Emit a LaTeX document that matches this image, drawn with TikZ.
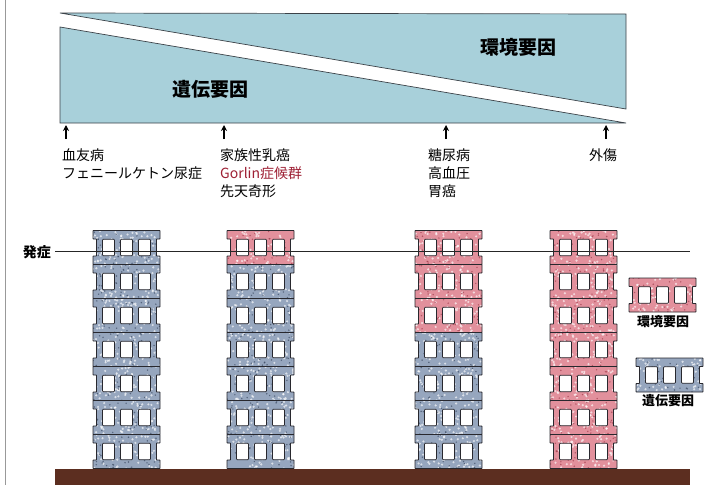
\documentclass[tikz,border=0pt]{standalone}
\usepackage{fontspec}
\newfontfamily\jp{Noto Sans CJK JP}
\usetikzlibrary{arrows.meta}

\definecolor{bandblue}{RGB}{168,208,218}
\definecolor{bandedge}{RGB}{60,66,72}
\definecolor{graystone}{RGB}{150,166,190}
\definecolor{graydark}{RGB}{60,74,98}
\definecolor{pinkstone}{RGB}{226,144,156}
\definecolor{pinkdark}{RGB}{160,60,76}
\definecolor{blockedge}{RGB}{40,40,46}
\definecolor{earth}{RGB}{92,46,32}
\definecolor{gorlinred}{RGB}{158,32,52}

\tikzset{
  blockoutline/.style={insert path={(0,0) -- (67,0) -- (67,8.5) -- (63.5,8.5)
      -- (63.5,25.5) -- (67,25.5) -- (67,34) -- (0,34) -- (0,25.5) -- (3.5,25.5)
      -- (3.5,8.5) -- (0,8.5) -- cycle}},
  blockwindows/.style={insert path={(9.5,8.8) rectangle (21.5,25.2)
      (27.5,8.8) rectangle (39.5,25.2) (45.5,8.8) rectangle (57.5,25.2)}},
  lst/.style={anchor=west, inner sep=0pt, font=\jp\fontsize{14}{16}\selectfont},
  bandlabel/.style={inner sep=0pt, font=\jp\bfseries\fontsize{19}{21}\selectfont},
  keylabel/.style={inner sep=0pt, font=\jp\bfseries\fontsize{13}{15}\selectfont},
  marker/.style={line width=1.4pt, -{Stealth[length=6pt,width=6pt]}},
}

% one storey: #1,#2 top-left corner, #3 stone colour, #4 dark speck colour
\newcommand\storey[4]{%
  \begin{scope}[shift={(#1,#2)}]
    \fill[#3, blockoutline];
    \begin{scope}
      \clip[blockoutline];
      \foreach \k in {1,...,70}{
        \pgfmathsetmacro\sx{rnd*67}\pgfmathsetmacro\sy{rnd*34}
        \fill[white, opacity=.65] (\sx,\sy) circle (1.2);
      }
      \foreach \k in {1,...,35}{
        \pgfmathsetmacro\sx{rnd*67}\pgfmathsetmacro\sy{rnd*34}
        \fill[#4, opacity=.7] (\sx,\sy) circle (0.8);
      }
    \end{scope}
    \filldraw[fill=white, draw=blockedge, line width=.8pt, rounded corners=.8pt, blockwindows];
    \draw[blockedge, line width=.9pt, rounded corners=.6pt, blockoutline];
  \end{scope}}

\begin{document}
\begin{tikzpicture}[x=1pt, y=-1pt]
  \useasboundingbox (0,0) rectangle (720,485);
  \fill[white] (0,0) rectangle (720,485);
  \pgfmathsetseed{7}

  % page edge
  \draw[gray!80, line width=1pt] (5,0) -- (5,485);

  % share of environmental and genetic factors
  \filldraw[fill=bandblue, draw=bandedge, line width=.7pt]
    (60,13) -- (626,14) -- (626,109) -- cycle;
  \filldraw[fill=bandblue, draw=bandedge, line width=.7pt]
    (60,27) -- (60,123) -- (626,123) -- cycle;
  \node[bandlabel] (env) at (518,47) {環境要因};
  \node[bandlabel] (gen) at (210,89) {遺伝要因};

  % disease markers
  \foreach \n/\ax in {1/66, 2/224, 3/446, 4/606}{
    \coordinate (m\n b) at (\ax,139);
    \coordinate (m\n t) at (\ax,125);
    \draw[marker] (m\n b) -- (m\n t);
  }

  \node[lst] (d11) at (62,155) {血友病};
  \node[lst] (d12) at (62,173) {フェニールケトン尿症};
  \node[lst] (d21) at (220,155) {家族性乳癌};
  \node[lst, text=gorlinred] (d22) at (220,173) {Gorlin症候群};
  \node[lst] (d23) at (220,191) {先天奇形};
  \node[lst] (d31) at (428,155) {糖尿病};
  \node[lst] (d32) at (428,173) {高血圧};
  \node[lst] (d33) at (428,191) {胃癌};
  \node[lst] (d41) at (589,155) {外傷};

  % ground
  \fill[earth] (55,469) rectangle (690,485);

  % towers of storeys: number of environmental storeys on top
  \foreach \bx/\np in {93/0, 227/1, 415/3, 550/7}{
    \foreach \i in {0,...,6}{
      \pgfmathsetmacro\by{230.5+34*\i}
      \ifnum\i<\np
        \storey{\bx}{\by}{pinkstone}{pinkdark}
      \else
        \storey{\bx}{\by}{graystone}{graydark}
      \fi
    }
  }

  % key
  \storey{629}{278}{pinkstone}{pinkdark}
  \node[keylabel] (keyenv) at (663,322) {環境要因};
  \storey{636}{358}{graystone}{graydark}
  \node[keylabel] (keygen) at (668,401) {遺伝要因};

  % onset threshold
  \node[inner sep=0pt, font=\jp\bfseries\fontsize{14}{16}\selectfont] (onset) at (37,252) {発症};
  \coordinate (onsetend) at (690,251.5);
  \draw[black!85, line width=.7pt] (onset.east |- onsetend) ++(4,0) coordinate (onsetstart) (onsetstart) -- (onsetend);
\end{tikzpicture}
\end{document}
